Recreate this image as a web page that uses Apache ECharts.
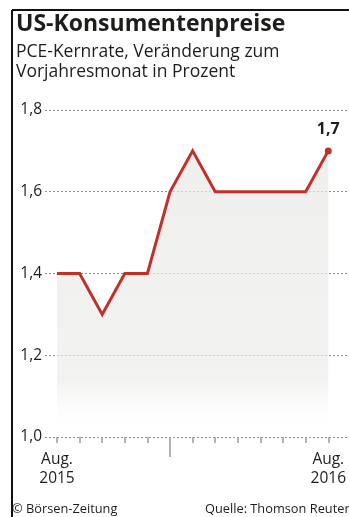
<!DOCTYPE html>
<html>
<head>
<meta charset="utf-8">
<script src="https://cdn.jsdelivr.net/npm/echarts@6/dist/echarts.min.js"></script>
<style>
  html, body { margin: 0; padding: 0; background: #fff; }
  #chart { width: 349px; height: 517px; }
</style>
</head>
<body>
<div id="chart"></div>
<script>
// Daten: PCE-Kernrate, Veränderung zum Vorjahresmonat in Prozent
const monate = ['Aug. 2015', 'Sep.', 'Okt.', 'Nov.', 'Dez.', 'Jan. 2016', 'Feb.', 'Mär.', 'Apr.', 'Mai', 'Jun.', 'Jul.', 'Aug. 2016'];
const kernrate = [1.4, 1.4, 1.3, 1.4, 1.4, 1.6, 1.7, 1.6, 1.6, 1.6, 1.6, 1.6, 1.7];
const yTicks = [1.0, 1.2, 1.4, 1.6, 1.8];

const chart = echarts.init(document.getElementById('chart'));
const font = '"Open Sans", "Noto Sans", sans-serif';
const rot = '#c0312b';

const option = {
    animation: false,
    backgroundColor: '#fff',
    title: [
        {
            text: 'US-Konsumentenpreise',
            left: 16, top: 13, padding: 0,
            textStyle: { fontFamily: font, fontSize: 23, fontWeight: 'bold', color: '#1d1d1b' }
        },
        {
            text: 'PCE-Kernrate, Veränderung zum\nVorjahresmonat in Prozent',
            left: 16, top: 42, padding: 0,
            textStyle: { fontFamily: font, fontSize: 17.5, fontWeight: 'normal', color: '#1d1d1b', lineHeight: 20 }
        },
        {
            text: '© Börsen-Zeitung',
            left: 12, top: 503, padding: 0,
            textStyle: { fontFamily: font, fontSize: 12.8, fontWeight: 'normal', color: '#1d1d1b' }
        },
        {
            text: 'Quelle: Thomson Reuters',
            left: 205, top: 503, padding: 0,
            textStyle: { fontFamily: font, fontSize: 12.8, fontWeight: 'normal', color: '#1d1d1b' }
        }
    ],
    // Rahmen links und oben
    graphic: [
        { type: 'line', shape: { x1: 12, y1: 10, x2: 349, y2: 10 }, style: { stroke: '#111', lineWidth: 2 } },
        { type: 'line', shape: { x1: 12, y1: 10, x2: 12, y2: 517 }, style: { stroke: '#111', lineWidth: 2 } }
    ],
    grid: [
        { left: 45, right: 0, top: 110, bottom: 80 },
        { left: 57, right: 16, top: 110, bottom: 80 }
    ],
    xAxis: [
        { gridIndex: 0, type: 'value', min: 0, max: 1, show: false },
        {
            gridIndex: 1,
            type: 'category',
            position: 'bottom',
            boundaryGap: false,
            data: monate,
            axisLine: { show: false },
            axisTick: {
                show: true, length: 6, interval: 0,
                lineStyle: { color: '#9a9a9a', width: 1.5 }
            },
            axisLabel: {
                interval: (i) => i === 0 || i === monate.length - 1,
                formatter: (v) => v.replace(' ', '\n'),
                fontFamily: font, fontSize: 15.5, color: '#1d1d1b',
                lineHeight: 19, margin: 13
            }
        },
        {
            gridIndex: 1,
            type: 'category',
            position: 'bottom',
            offset: 0,
            boundaryGap: false,
            data: monate,
            axisLine: { show: false },
            axisTick: {
                show: true, length: 20,
                interval: (i, v) => v === 'Jan. 2016',
                lineStyle: { color: '#9a9a9a', width: 1.5 }
            },
            axisLabel: { show: false }
        }
    ],
    yAxis: [
        {
            gridIndex: 0,
            type: 'value',
            min: yTicks[0], max: yTicks[yTicks.length - 1], interval: 0.2,
            axisLine: { show: false },
            axisTick: { show: false },
            axisLabel: {
                formatter: (v) => v.toFixed(1).replace('.', ','),
                fontFamily: font, fontSize: 15.5, color: '#1d1d1b', margin: 3
            },
            splitLine: { show: true, lineStyle: { color: '#8f8f8f', type: [2, 2], width: 1 } }
        },
        {
            gridIndex: 1,
            type: 'value',
            min: yTicks[0], max: yTicks[yTicks.length - 1], interval: 0.2,
            show: false,
            splitLine: { show: false }
        }
    ],
    series: [
        {
            type: 'line',
            xAxisIndex: 1,
            yAxisIndex: 1,
            data: kernrate,
            symbol: 'circle',
            symbolSize: (v, p) => p.dataIndex === kernrate.length - 1 ? 7 : 0,
            showSymbol: true,
            itemStyle: { color: rot },
            lineStyle: { color: rot, width: 3, join: 'miter' },
            areaStyle: {
                origin: 'start',
                color: new echarts.graphic.LinearGradient(0, 0, 0, 1, [
                    { offset: 0, color: '#e8e8e5' },
                    { offset: 0.8, color: '#ededeb' },
                    { offset: 1, color: 'rgba(255,255,255,0)' }
                ])
            },
            label: {
                show: true,
                position: 'top',
                distance: 10,
                formatter: (p) => p.dataIndex === kernrate.length - 1 ? String(p.value).replace('.', ',') : '',
                fontFamily: font, fontSize: 16, fontWeight: 'bold', color: '#1d1d1b'
            },
            z: 3
        }
    ]
};

chart.setOption(option);
</script>
</body>
</html>
